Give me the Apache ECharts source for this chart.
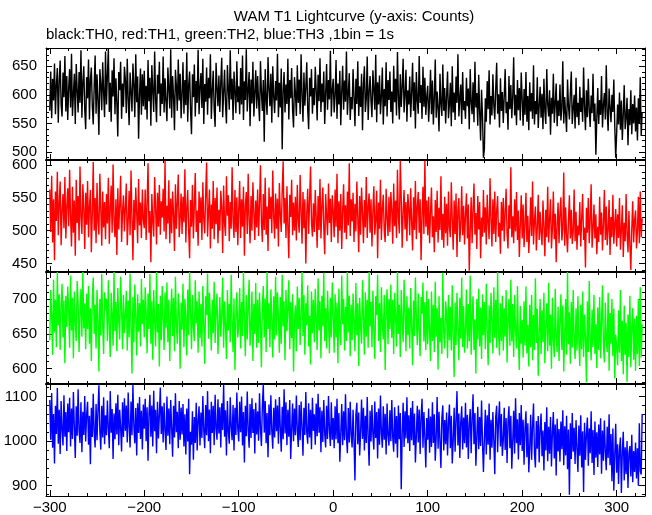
<!DOCTYPE html>
<html><head><meta charset="utf-8">
<script src="https://cdn.jsdelivr.net/npm/echarts@6/dist/echarts.min.js"></script>
<style>html,body{margin:0;padding:0;background:#fff}#c{width:652px;height:515px}</style>
</head><body><div id="c"></div>
<script>
const titleText = "WAM T1 Lightcurve (y-axis: Counts)";
const subtitleText = "black:TH0, red:TH1, green:TH2, blue:TH3 ,1bin = 1s";
const tStart = -300;
const binSize = 1;
const xTickLabels = [-300, -200, -100, 0, 100, 200, 300];

const th0 = [
572,641,559,628,590,655,566,618,647,551,624,660,583,562,639,596,668,571,633,556,
612,645,578,672,563,601,637,549,654,609,569,640,586,678,560,622,650,575,540,631,
594,662,557,626,648,581,548,615,669,567,636,590,530,645,619,573,657,604,561,676,
583,634,681,570,621,553,643,597,664,566,629,585,527,640,608,658,558,620,579,649,
627,568,663,592,547,639,605,571,655,617,561,671,587,632,523,600,646,565,636,580,
642,574,616,557,661,589,630,546,652,607,570,676,593,552,635,602,658,563,620,584,
667,569,629,588,554,648,611,576,680,560,633,598,538,644,615,572,662,590,637,559,
601,657,567,626,582,674,553,617,641,573,531,636,596,653,562,624,586,679,566,613,
638,577,663,549,619,588,648,565,630,594,671,558,608,642,575,544,656,612,580,634,
570,621,665,561,603,644,584,550,652,610,574,678,592,628,556,641,605,568,659,587,
615,566,647,583,669,556,624,591,680,571,609,640,545,627,585,658,562,603,643,576,
633,588,554,659,605,572,626,518,645,592,565,666,611,580,637,551,650,598,568,624,
590,672,561,621,578,646,505,607,640,569,618,584,663,557,626,594,647,573,543,631,
604,563,652,586,627,566,671,599,553,639,581,613,657,575,540,630,597,645,567,612,
582,649,608,555,635,589,664,570,620,587,641,549,602,654,574,626,592,677,562,609,
628,569,599,661,558,620,583,642,547,606,651,574,625,588,676,565,603,638,556,596,
575,645,597,545,628,584,659,563,615,579,637,538,617,650,570,593,667,556,604,633,
589,561,643,609,574,670,552,622,583,634,566,598,648,548,610,580,657,562,626,591,
641,570,606,550,651,587,628,564,675,595,557,636,579,614,663,569,600,644,553,608,
583,632,561,603,656,572,622,541,640,591,567,668,586,617,558,649,579,630,565,596,
616,553,590,644,566,625,548,595,662,560,606,577,536,637,584,563,653,572,612,550,
597,641,559,583,621,545,650,569,604,556,632,586,671,562,593,618,549,640,573,589,
558,630,580,611,540,645,587,566,622,552,658,578,603,546,635,571,520,609,563,490,
505,594,553,624,575,643,548,598,564,636,582,557,610,656,567,601,543,629,572,605,
551,597,645,568,588,539,633,575,617,559,596,666,564,600,547,626,573,612,555,639,
593,546,610,565,640,553,598,538,622,571,603,558,652,548,589,566,631,542,580,614,
560,602,540,628,571,549,645,584,562,608,530,595,567,637,551,584,620,545,590,563,
618,555,577,659,550,596,566,535,627,581,557,604,641,549,576,600,541,630,561,586,
547,614,570,595,553,648,579,538,608,561,628,574,544,599,568,637,554,585,495,560,
612,549,591,565,633,543,582,603,557,652,568,537,611,578,552,600,570,627,546,490,
532,583,548,604,539,590,521,566,617,540,561,595,512,575,547,608,531,584,550,599,
536,578,520,594,549,631,528,570
];

const th1 = [
563,498,584,482,548,455,560,515,590,493,541,575,478,530,556,504,582,488,537,565,
507,593,522,476,567,497,546,462,578,512,553,485,598,520,495,571,535,472,558,509,
576,490,538,562,467,526,605,500,550,481,573,514,494,587,533,477,560,505,544,487,
556,511,581,480,534,569,497,601,518,490,548,463,565,502,539,584,483,529,554,499,
536,572,478,516,561,493,592,521,455,547,501,566,527,481,579,508,543,489,563,517,
504,563,486,541,603,497,530,452,556,515,491,582,536,479,558,506,570,494,545,520,
564,499,607,487,538,511,577,481,549,496,560,524,469,571,503,542,586,490,519,557,
495,552,513,594,482,534,562,500,458,547,506,570,488,539,588,498,531,477,560,512,
551,486,574,517,496,557,604,491,529,563,473,540,503,576,487,550,510,566,481,532,
500,561,537,466,569,511,492,583,523,554,484,544,503,597,516,489,562,498,551,478,
533,576,489,548,506,567,462,538,559,495,587,517,481,553,500,574,528,486,546,505,
563,492,541,600,514,483,556,501,581,494,537,469,566,518,552,496,592,522,488,557,
503,549,476,573,525,498,561,606,511,550,489,568,506,458,555,521,578,493,543,500,
552,485,570,516,497,585,530,480,559,504,548,450,526,564,495,547,598,513,491,542,
498,562,520,474,553,501,579,488,537,566,505,464,556,523,493,572,512,549,483,554,
530,490,563,506,587,481,545,500,556,472,531,571,497,539,487,560,508,603,492,548,
514,558,483,541,499,575,520,467,553,494,566,528,481,547,505,582,489,536,557,497,
548,476,531,568,494,517,561,458,543,503,578,486,534,555,500,483,564,519,492,552,
498,559,532,480,572,507,546,489,593,520,496,607,550,474,529,562,502,544,484,556,
534,493,565,514,470,551,501,576,487,537,559,497,548,455,522,567,495,607,506,546,
493,552,481,529,566,490,522,467,547,498,561,482,535,501,583,486,526,474,552,496,
541,477,560,505,490,574,518,471,546,495,557,460,532,550,483,509,568,493,538,479,
525,557,488,540,439,499,551,481,533,572,494,527,472,553,502,544,458,520,491,562,
497,536,479,555,511,487,580,518,476,548,495,560,483,530,553,491,512,465,544,500,
550,484,527,564,496,473,539,503,597,490,522,481,548,499,559,486,531,460,508,554,
488,540,475,509,558,483,523,466,502,551,492,575,479,515,537,470,505,555,486,529,
496,478,546,507,461,532,490,567,482,518,548,473,503,560,487,526,452,509,543,481,
527,551,485,503,589,477,536,494,467,516,554,488,532,480,498,563,484,529,471,508,
493,544,476,520,556,486,505,444,535,497,550,481,517,571,474,503,540,488,525,464,
506,483,552,494,528,470,511,562,486,537,478,502,547,463,521,490,555,480,509,533,
476,525,489,550,471,501,539,460,512,484,556,495,467,530,479,440,503,545,482,516,
531,473,500,552,481,560,490,519
];

const th2 = [
641,713,675,620,728,652,699,631,739,662,707,627,690,722,645,698,608,705,660,718,
683,630,734,655,702,615,711,668,640,726,695,624,679,715,646,739,658,694,628,708,
657,719,636,687,611,703,731,650,692,629,713,673,596,700,648,736,664,621,710,684,
701,640,727,659,617,709,678,633,739,654,696,625,716,669,642,732,685,628,706,651,
676,712,626,698,645,737,660,593,703,638,721,675,619,707,653,694,632,729,664,699,
645,717,680,622,708,657,736,636,697,613,713,668,632,739,652,693,603,705,641,719,
674,627,710,659,724,638,699,611,678,715,647,702,625,732,663,636,708,681,600,695,
656,722,631,700,672,619,714,648,739,683,628,706,660,640,727,665,697,623,711,644,
693,632,719,662,607,704,677,737,643,709,671,626,699,651,725,637,688,708,621,660,
703,646,678,731,630,697,664,614,713,655,693,638,735,669,624,701,598,676,710,645,
662,716,629,696,647,739,670,618,706,642,687,728,633,658,711,611,693,650,723,630,
699,637,709,664,602,689,719,645,701,624,739,657,694,631,714,672,616,704,642,732,
648,710,676,623,703,636,735,661,697,612,713,654,687,727,628,696,644,707,596,671,
691,625,718,657,702,634,679,739,647,706,620,694,662,720,632,676,606,711,651,699,
638,715,671,627,730,655,697,615,705,661,738,640,687,629,712,668,622,702,645,724,
676,623,707,645,695,608,715,656,634,734,664,700,626,689,640,739,652,705,618,692,
641,708,667,625,723,648,694,604,702,659,636,727,675,620,710,646,699,630,739,661,
696,631,712,654,614,704,677,735,640,694,624,717,663,642,706,598,686,714,635,700,
657,721,644,699,621,709,673,632,739,650,692,617,713,666,638,728,683,625,704,648,
688,629,716,661,605,698,647,731,672,634,708,654,618,703,679,724,639,696,627,712,
635,700,654,611,711,640,692,624,725,646,687,599,704,638,673,621,738,651,629,697,
679,615,706,641,689,626,720,648,588,695,634,709,657,612,702,643,731,631,690,623,
654,714,629,693,639,734,620,676,704,627,671,593,700,642,715,632,688,614,707,648,
696,628,722,655,605,691,637,709,670,622,717,644,699,630,739,651,619,694,640,705,
626,687,646,713,609,672,700,633,728,639,693,617,706,655,629,719,643,598,690,636,
670,616,697,633,718,622,663,603,692,631,706,612,677,627,730,637,686,590,651,700,
621,684,638,709,608,661,694,625,723,633,678,600,702,640,617,715,646,624,689,611,
668,707,627,691,596,650,700,620,739,635,681,607,696,630,713,642,614,687,626,704,
637,604,692,628,711,617,678,645,580,697,624,726,641,612,685,631,706,621,664,601,
688,627,703,615,667,720,634,609,695,641,624,709,597,680,636,700,618,686,586,649,
632,605,684,623,713,611,669,592,691,620,666,581,678,617,705,602,659,687,613,672,
597,676,621,700,604,717,616,664
];

const th3 = [
1092,1003,1108,985,1061,950,1079,1016,1119,994,1070,971,1090,1025,990,1103,1010,1065,978,1084,
1020,1097,988,1073,1005,1110,1031,962,1078,1012,1116,1022,996,1087,975,1066,1014,1101,999,1060,
1088,992,1057,948,1075,1009,1106,1019,986,1083,1002,1068,1125,1024,981,1079,1008,1098,993,1058,
1013,1091,1027,984,1112,1019,1072,960,1062,1004,1085,1015,1104,991,1070,1030,977,1087,1009,1096,
1023,1080,997,1109,1032,986,1089,1013,1126,1033,995,1074,968,1085,1018,1099,1005,1068,981,1082,
1028,1095,1000,1076,956,1062,1104,1010,1080,988,1113,1022,1070,973,1088,1006,1059,1120,1016,1078,
997,1086,1024,980,1100,1012,1073,993,1092,1029,965,1079,1008,1107,1020,1066,984,1090,1003,1075,
1015,1083,988,1060,970,1073,999,1095,926,1021,992,1067,958,1054,996,1086,979,1048,1078,990,
1064,1007,1101,1023,984,1081,1013,1112,1000,1071,973,1088,1018,1079,991,1104,1029,1003,1094,1017,
1076,986,1085,1025,1127,1010,1069,968,1090,1021,994,1098,1031,1002,1081,979,1075,1014,1109,1027,
999,1088,1020,1100,990,1065,952,1079,1011,1111,1025,985,1083,1007,1096,1018,1072,972,1086,1015,
1067,1001,1107,1028,989,1078,1128,1019,1090,995,1063,964,1082,1013,1103,1023,983,1075,1008,1094,
1022,1080,994,1099,1029,976,1077,1004,1116,1017,1087,991,1070,1010,1092,960,1027,1084,1000,1073,
1013,1102,1024,987,1081,1002,1089,1032,967,1075,1014,1110,1020,994,1085,1008,1070,982,1097,1023,
1060,992,1084,1011,1106,1019,1076,975,1068,998,1092,1016,986,1079,1005,1101,1025,989,1087,1003,
1052,984,1078,1004,1095,995,1063,954,1017,1083,991,1067,1002,1105,1011,973,1074,997,1088,1014,
986,1070,1001,912,1059,1086,993,1064,968,1020,1093,1005,1075,979,1057,996,1099,1010,945,1068,
999,1081,1015,981,1089,1007,1065,961,1073,992,1102,1018,985,1078,1003,1061,970,1084,1012,990,
1069,1000,1092,1009,976,1076,994,1056,963,1080,1004,1063,892,1016,1086,987,1067,1006,1098,995,
1058,978,1075,1002,1090,991,1062,952,1014,1079,997,1071,971,1054,1095,985,1065,1008,941,1052,
1003,1073,974,1055,987,1087,996,1060,956,1009,1099,983,1066,998,940,1052,1080,979,1047,993,
1064,968,1041,1082,984,1057,950,1001,1075,976,1049,1112,990,1062,962,1043,1078,981,1053,995,
1086,986,1059,960,1039,1072,973,1051,1105,993,1063,945,1010,1077,982,1054,989,1091,998,931,
1007,1070,970,1058,992,1084,958,1048,985,1065,1001,926,1055,1079,975,1046,1089,988,1061,967,
1002,1075,980,1052,951,1044,1078,984,1057,938,999,1068,972,1096,995,1049,959,1063,991,1081,
978,1048,947,1030,1067,964,1040,930,986,1059,958,1035,1084,973,941,1045,983,1056,952,1029,
1062,966,1024,934,1043,979,1076,955,1032,972,1054,943,1021,1065,961,1037,923,1050,977,1027,
954,1044,982,1069,946,1033,968,1057,937,1026,880,1040,960,1063,976,1030,949,1047,984,931,
1035,967,1058,941,1022,886,1041,958,1015,1053,945,1029,973,1067,951,1025,924,1044,963,1020,
942,1037,970,1051,927,1024,956,1046,978,935,1032,962,1060,946,1016,910,1028,889,967,1039,
929,993,904,981,1008,884,976,1021,912,986,926,1000,895,973,989,921,1014,908,978,931,
997,916,984,900,1040,933,925,1061
];

const seriesData = [th0, th1, th2, th3];
const seriesColors = ['#000000', '#ff0000', '#00ff00', '#0000ff'];
const yRanges = [[486, 682], [437, 608], [578, 739], [877, 1128]];
const yTickLabels = [[500, 550, 600, 650], [450, 500, 550, 600], [600, 650, 700], [900, 1000, 1100]];
const yMinorSteps = [10, 10, 10, 20];
const xRange = [-304, 330];
const xMinorStep = 20;

const FONT = 'Liberation Sans, Arial, Helvetica, sans-serif';
const FS = 15;
const panelTops = [48, 160, 272, 384];
const panelH = 112;
const fmt = v => String(v).replace('-', '\u2212');

function stepValues(lo, hi, step) {
  const out = [];
  for (let v = Math.ceil(lo / step) * step; v <= hi; v += step) out.push(v);
  return out;
}

const grids = [], xAxes = [], yAxes = [], series = [];
const xMinor = stepValues(xRange[0], xRange[1], xMinorStep);
const noLine = { show: false, onZero: false };
const frameLine = { show: true, onZero: false, lineStyle: { color: '#000', width: 1 } };
const innerLine = { show: true, onZero: false, lineStyle: { color: '#000', width: 2 } };

for (let g = 0; g < 4; g++) {
  grids.push({ left: 46, right: 7, top: panelTops[g], height: panelH, show: false });
  const xi = xAxes.length, yi = yAxes.length;
  const baseX = { type: 'value', gridIndex: g, min: xRange[0], max: xRange[1], splitLine: { show: false } };
  xAxes.push(Object.assign({}, baseX, {
    position: 'bottom', axisLine: frameLine,
    axisTick: { show: true, inside: true, length: 6, customValues: xTickLabels, lineStyle: { color: '#000' } },
    axisLabel: { show: g === 3, customValues: xTickLabels, formatter: fmt, color: '#000', fontSize: FS, fontFamily: FONT, margin: 4 }
  }));
  xAxes.push(Object.assign({}, baseX, {
    position: 'bottom', axisLine: noLine,
    axisTick: { show: true, inside: true, length: 3, customValues: xMinor, lineStyle: { color: '#000' } },
    axisLabel: { show: false }
  }));
  xAxes.push(Object.assign({}, baseX, {
    position: 'top', axisLine: g === 0 ? frameLine : innerLine,
    axisTick: { show: true, inside: true, length: 6, customValues: xTickLabels, lineStyle: { color: '#000' } },
    axisLabel: { show: false }
  }));
  xAxes.push(Object.assign({}, baseX, {
    position: 'top', axisLine: noLine,
    axisTick: { show: true, inside: true, length: 3, customValues: xMinor, lineStyle: { color: '#000' } },
    axisLabel: { show: false }
  }));

  const yr = yRanges[g];
  const yMinor = stepValues(yr[0], yr[1], yMinorSteps[g]);
  const baseY = { type: 'value', gridIndex: g, min: yr[0], max: yr[1], splitLine: { show: false } };
  yAxes.push(Object.assign({}, baseY, {
    position: 'left', axisLine: frameLine,
    axisTick: { show: true, inside: true, length: 6, customValues: yTickLabels[g], lineStyle: { color: '#000' } },
    axisLabel: { show: true, customValues: yTickLabels[g], formatter: fmt, color: '#000', fontSize: FS, fontFamily: FONT, margin: 9 }
  }));
  yAxes.push(Object.assign({}, baseY, {
    position: 'left', axisLine: noLine,
    axisTick: { show: true, inside: true, length: 3, customValues: yMinor, lineStyle: { color: '#000' } },
    axisLabel: { show: false }
  }));
  yAxes.push(Object.assign({}, baseY, {
    position: 'right', axisLine: frameLine,
    axisTick: { show: true, inside: true, length: 6, customValues: yTickLabels[g], lineStyle: { color: '#000' } },
    axisLabel: { show: false }
  }));
  yAxes.push(Object.assign({}, baseY, {
    position: 'right', axisLine: noLine,
    axisTick: { show: true, inside: true, length: 3, customValues: yMinor, lineStyle: { color: '#000' } },
    axisLabel: { show: false }
  }));

  series.push({
    type: 'line',
    xAxisIndex: xi,
    yAxisIndex: yi,
    data: seriesData[g].map((v, i) => [tStart + i * binSize, v]),
    showSymbol: false,
    symbol: 'none',
    clip: true,
    lineStyle: { color: seriesColors[g], width: 1.4 },
    itemStyle: { color: seriesColors[g] },
    emphasis: { disabled: true },
    z: 1
  });
}

const chart = echarts.init(document.getElementById('c'), null, { renderer: 'canvas' });
chart.setOption({
  animation: false,
  backgroundColor: '#fff',
  grid: grids,
  xAxis: xAxes,
  yAxis: yAxes,
  series: series,
  graphic: [
    { type: 'text', x: 354, y: 17, style: { text: titleText, font: FS + 'px ' + FONT, fill: '#000', textAlign: 'center', textVerticalAlign: 'middle' } },
    { type: 'text', x: 46, y: 35, style: { text: subtitleText, font: FS + 'px ' + FONT, fill: '#000', textAlign: 'left', textVerticalAlign: 'middle' } }
  ]
});
</script>
</body></html>
